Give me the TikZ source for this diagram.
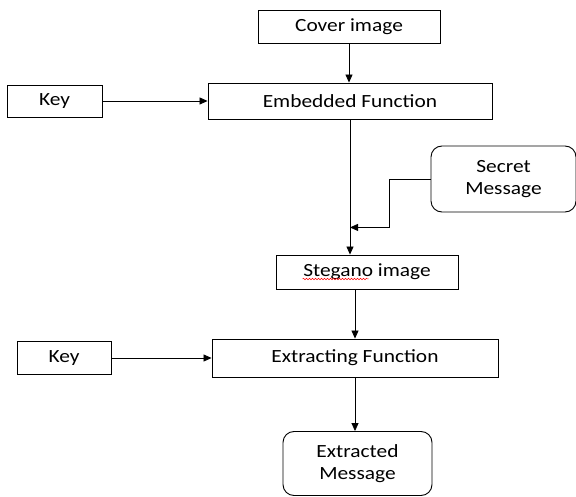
\documentclass[tikz,border=0pt]{standalone}
\usepackage{fontspec}
\setmainfont{Carlito}[FakeStretch=1.15]
\usetikzlibrary{arrows.meta,calc,positioning,decorations.pathmorphing}

\begin{document}
\begin{tikzpicture}[x=1pt,y=-1pt,
    box/.style={draw,line width=0.9pt,inner sep=0pt,align=center,
      font=\fontsize{18.6}{22}\selectfont},
    roundbox/.style={box,rounded corners=11pt},
    arr/.style={line width=0.8pt,-{Triangle[length=8pt,width=7pt]}}]
  \useasboundingbox (0,0) rectangle (576,497);
  %embedding part
  \node[box,minimum width=182pt,minimum height=33pt] (cover) at (349,26.5) {Cover image};
  \node[box,minimum width=284pt,minimum height=36pt] (emb) at($(cover) + (1,74.5)$) {Embedded Function};
  %Key on the left of the function
  \node[box,minimum width=95pt,minimum height=32pt] (key1) at($(emb) + (-295.5,0)$) {Key};
  \node[roundbox,minimum width=145pt,minimum height=66pt] (secret) at($(emb) + (153.5,78)$) {Secret\\Message};
  \node[box,minimum width=182pt,minimum height=34pt] (steg) at($(emb) + (17,171)$) {Stegano image};
  %extracting part
  \node[box,minimum width=286pt,minimum height=38pt] (extr) at($(steg) + (-12,86)$) {Extracting Function};
  \node[box,minimum width=94pt,minimum height=33pt] (key2) at($(extr) + (-291,0)$) {Key};
  \node[roundbox,minimum width=149pt,minimum height=64pt] (msg) at($(extr) + (2.5,105.5)$) {Extracted\\Message};
  %the point where the secret message joins the main line
  \coordinate (join) at($(emb.south) + (0,108)$);
  %connectors
  \draw[arr] (cover.south) -- (cover.south |- emb.north);
  \draw[arr] (key1) -- (emb);
  \draw[arr] (emb.south) -- (emb.south |- steg.north);
  \draw[arr] (secret.west) -- ++(-41,0) |- (join);
  \draw[arr] (steg.south -| extr.north) -- (extr.north);
  \draw[arr] (key2) -- (extr);
  \draw[arr] (extr.south) -- (extr.south |- msg.north);
  %red spelling mark under "Stegano"
  \draw[red,line width=0.5pt,decorate,decoration={snake,amplitude=0.8pt,segment length=3pt}]
    ($(steg.west) + (27,7)$) -- ($(steg.west) + (93,7)$);
\end{tikzpicture}
\end{document}
